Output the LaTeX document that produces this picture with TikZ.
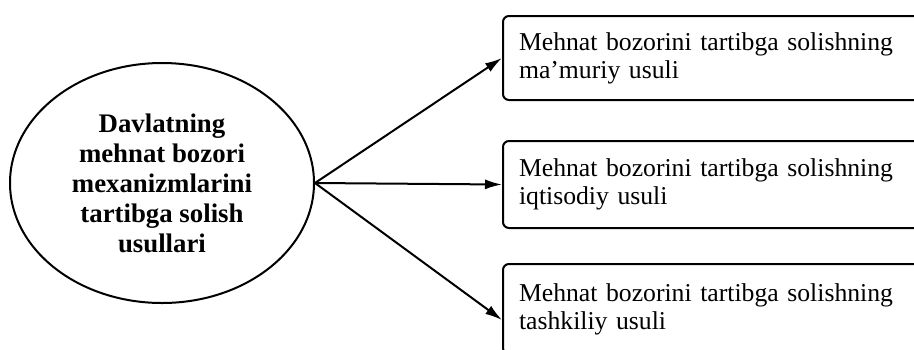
\documentclass[tikz,border=0pt]{standalone}
\usepackage{fontspec}
\setmainfont{Liberation Serif}
\usepackage{tikz}
\usetikzlibrary{arrows.meta,positioning,shapes.geometric}

\begin{document}
\begin{tikzpicture}[
  x=0.5pt, y=-0.5pt,
  font=\fontsize{12.85}{14}\selectfont,
  box/.style={draw, line width=1pt, rounded corners=3pt, align=left, anchor=north west, text width=205pt, inner xsep=8pt, minimum height=42pt},
  oval/.style={draw, ellipse, line width=1pt, align=center, minimum width=152pt, minimum height=120pt, inner sep=0pt, font=\fontsize{13.4}{15}\selectfont\bfseries},
  arr/.style={-{Latex[length=8.5pt,width=5pt]}, line width=1pt}
]
  \clip (0,0) rectangle (914,349);

  \node[oval] (usul) at (162,183) {Davlatning\\mehnat bozori\\mexanizmlarini\\tartibga solish\\usullari};

  \node[box] (mamuriy) at (502,15) {Mehnat bozorini tartibga solishning\\ma’muriy usuli};
  \node[box, minimum height=43.5pt] (iqtisodiy) at (502,140) {Mehnat bozorini tartibga solishning\\iqtisodiy usuli};
  \node[box, minimum height=45pt] (tashkiliy) at (502,263) {Mehnat bozorini tartibga solishning\\tashkiliy usuli};
  \coordinate (tashkin) at (502,320);

  \draw[arr] (usul.east) -- (mamuriy.west);
  \draw[arr] (usul.east) -- (iqtisodiy.west);
  \draw[arr] (usul.east) -- (tashkin);
\end{tikzpicture}
\end{document}
